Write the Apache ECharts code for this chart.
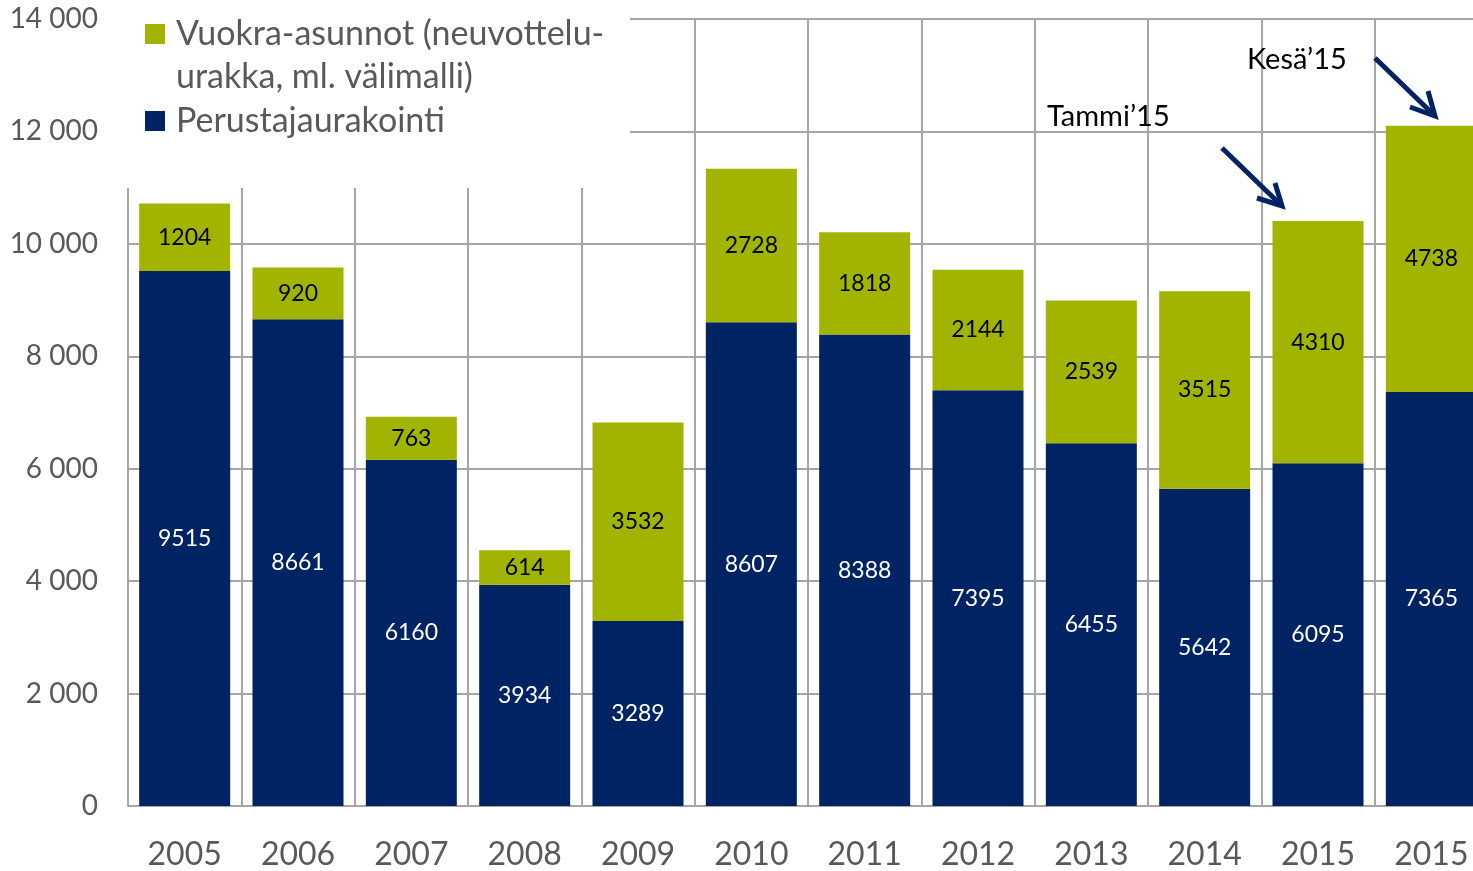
<!DOCTYPE html>
<html>
<head>
<meta charset="utf-8">
<script src="https://cdn.jsdelivr.net/npm/echarts@6/dist/echarts.min.js"></script>
<style>
  html, body { margin: 0; padding: 0; background: #fff; }
  #chart { width: 1473px; height: 871px; }
</style>
</head>
<body>
<div id="chart"></div>
<script>
const years = ["2005", "2006", "2007", "2008", "2009", "2010", "2011", "2012", "2013", "2014", "2015", "2015"];
const perustaja = [9515, 8661, 6160, 3934, 3289, 8607, 8388, 7395, 6455, 5642, 6095, 7365];
const vuokra = [1204, 920, 763, 614, 3532, 2728, 1818, 2144, 2539, 3515, 4310, 4738];
const legendNames = ["Vuokra-asunnot (neuvottelu-", "urakka, ml. välimalli)", "Perustajaurakointi"];
const notes = ["Tammi\u201915", "Kesä\u201915"];

const navy = "#002463";
const green = "#a2b400";
const grey = "#a6a6a6";
const font = "Lato";

const chart = echarts.init(document.getElementById("chart"));

// arrow drawn as shaft + open chevron head
function arrow(x1, y1, x2, y2, a1, a2) {
  const style = { stroke: navy, lineWidth: 5, fill: null, lineCap: "butt" };
  return [
    { type: "line", z: 10, shape: { x1, y1, x2, y2 }, style },
    { type: "polyline", z: 10, shape: { points: [a1, [x2, y2], a2] }, style },
  ];
}

chart.setOption({
  animation: false,
  textStyle: { fontFamily: font },
  grid: { left: 128, top: 19, width: 1360, bottom: 65, outerBoundsMode: "none", containLabel: false },
  xAxis: {
    type: "category",
    data: years,
    axisTick: { show: false },
    axisLine: { lineStyle: { color: grey, width: 2 } },
    axisLabel: { color: "#595959", fontSize: 32, margin: 33, fontFamily: font, interval: 0 },
    splitLine: { show: true, interval: 0, lineStyle: { color: grey, width: 2 } },
  },
  yAxis: {
    type: "value",
    min: 0,
    max: 14000,
    interval: 2000,
    axisLine: { show: false },
    axisTick: { show: false },
    axisLabel: {
      color: "#595959",
      fontSize: 28,
      margin: 30,
      fontFamily: font,
      formatter: (v) => String(v).replace(/\B(?=(\d{3})+(?!\d))/g, " "),
    },
    splitLine: { lineStyle: { color: grey, width: 2 } },
  },
  series: [
    {
      name: "Perustajaurakointi",
      type: "bar",
      stack: "a",
      barWidth: 91,
      data: perustaja,
      itemStyle: { color: navy },
      label: { show: true, position: "inside", color: "#fff", fontSize: 23, fontFamily: font },
    },
    {
      name: "Vuokra",
      type: "bar",
      stack: "a",
      barWidth: 91,
      data: vuokra,
      itemStyle: { color: green },
      label: { show: true, position: "inside", color: "#000", fontSize: 23, fontFamily: font },
    },
  ],
  graphic: [
    // white box behind the legend hides the grid lines there
    { type: "rect", z: 1, shape: { x: 127, y: 0, width: 503, height: 188 }, style: { fill: "#fff" } },
    { type: "rect", z: 10, shape: { x: 145, y: 24, width: 20, height: 20 }, style: { fill: green } },
    { type: "rect", z: 10, shape: { x: 145, y: 111, width: 20, height: 20 }, style: { fill: navy } },
    { type: "text", z: 10, x: 176, y: 34, style: { text: legendNames[0], fill: "#595959", font: `34px ${font}`, verticalAlign: "middle" } },
    { type: "text", z: 10, x: 176, y: 77, style: { text: legendNames[1], fill: "#595959", font: `34px ${font}`, verticalAlign: "middle" } },
    { type: "text", z: 10, x: 176, y: 121, style: { text: legendNames[2], fill: "#595959", font: `34px ${font}`, verticalAlign: "middle" } },
    { type: "text", z: 10, x: 1047, y: 117, style: { text: notes[0], fill: "#000", font: `29px ${font}`, verticalAlign: "middle" } },
    { type: "text", z: 10, x: 1247, y: 60, style: { text: notes[1], fill: "#000", font: `29px ${font}`, verticalAlign: "middle" } },
    ...arrow(1222, 148, 1282, 206, [1257, 198], [1275, 183]),
    ...arrow(1375, 58, 1435, 116, [1410, 107], [1428, 91]),
  ],
});
</script>
</body>
</html>
